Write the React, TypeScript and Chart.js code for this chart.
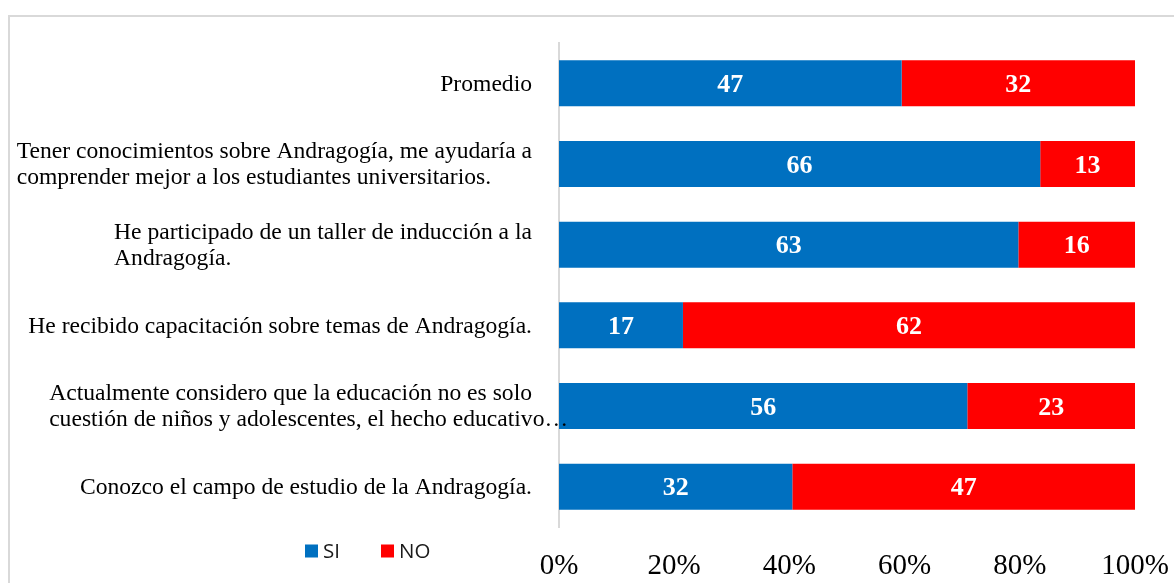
import React, { useEffect, useRef } from 'react';
import { Chart, registerables } from 'chart.js';

Chart.register(...registerables);

const categories: string[][] = [
  ['Promedio'],
  ['Tener conocimientos sobre Andragogía, me ayudaría a', 'comprender mejor a los estudiantes universitarios.'],
  ['He participado de un taller de inducción a la', 'Andragogía.'],
  ['He recibido capacitación sobre temas de Andragogía.'],
  ['Actualmente considero que la educación no es solo', 'cuestión de niños y adolescentes, el hecho educativo…'],
  ['Conozco el campo de estudio de la Andragogía.'],
];
const siValues = [47, 66, 63, 17, 56, 32];
const noValues = [32, 13, 16, 62, 23, 47];
const seriesNames = ['SI', 'NO'];
const seriesColors = ['#0070C0', '#FF0000'];
const xTickLabels = ['0%', '20%', '40%', '60%', '80%', '100%'];

const rawSeries = [siValues, noValues];
const totals = siValues.map((v, i) => v + noValues[i]);
const siPct = siValues.map((v, i) => (v / totals[i]) * 100);
const noPct = noValues.map((v, i) => (v / totals[i]) * 100);

const SERIF = '"Liberation Serif", "Times New Roman", serif';

const catLabelPlugin = {
  id: 'catLabels',
  afterDraw(chart: any) {
    const { ctx, chartArea } = chart;
    const yScale = chart.scales.y;
    ctx.save();
    ctx.font = `23.6px ${SERIF}`;
    ctx.fillStyle = '#000000';
    ctx.textBaseline = 'middle';
    ctx.textAlign = 'left';
    const right = chartArea.left - 27;
    const lh = 26.5;
    (chart.data.labels as string[][]).forEach((lines, i) => {
      const cy = yScale.getPixelForValue(i);
      const w = ctx.measureText(lines[0]).width;
      const x0 = right - w;
      lines.forEach((ln, j) => {
        ctx.fillText(ln, x0, cy + 1 + (j - (lines.length - 1) / 2) * lh);
      });
    });
    ctx.restore();
  },
};

const valueLabelPlugin = {
  id: 'valueLabels',
  afterDatasetsDraw(chart: any) {
    const { ctx } = chart;
    ctx.save();
    ctx.font = `bold 26px ${SERIF}`;
    ctx.fillStyle = '#FFFFFF';
    ctx.textAlign = 'center';
    ctx.textBaseline = 'middle';
    chart.data.datasets.forEach((_ds: any, di: number) => {
      const meta = chart.getDatasetMeta(di);
      meta.data.forEach((bar: any, i: number) => {
        const { x, base, y } = bar.getProps(['x', 'base', 'y'], true);
        ctx.fillText(String(rawSeries[di][i]), (x + base) / 2, y + 2);
      });
    });
    ctx.restore();
  },
};

const legendPlugin = {
  id: 'customLegend',
  afterDraw(chart: any) {
    const { ctx } = chart;
    ctx.save();
    ctx.font = '20.5px "Open Sans", sans-serif';
    ctx.textBaseline = 'middle';
    ctx.textAlign = 'left';
    const startX = 305;
    const step = 76;
    const cy = 551;
    const box = 13;
    chart.data.datasets.forEach((ds: any, i: number) => {
      const x = startX + i * step;
      ctx.fillStyle = ds.backgroundColor;
      ctx.fillRect(x, cy - box / 2, box, box);
      ctx.fillStyle = '#1a1a1a';
      ctx.fillText(ds.label, x + 18, cy + 1);
    });
    ctx.restore();
  },
};

export default function App() {
  const canvasRef = useRef<HTMLCanvasElement | null>(null);

  useEffect(() => {
    if (!canvasRef.current) return;
    const chart = new Chart(canvasRef.current, {
      type: 'bar',
      data: {
        labels: categories as any,
        datasets: [
          {
            label: seriesNames[0],
            data: siPct,
            backgroundColor: seriesColors[0],
            barPercentage: 0.57,
            categoryPercentage: 1,
          },
          {
            label: seriesNames[1],
            data: noPct,
            backgroundColor: seriesColors[1],
            barPercentage: 0.57,
            categoryPercentage: 1,
          },
        ],
      },
      options: {
        indexAxis: 'y',
        responsive: false,
        animation: false,
        layout: { padding: { top: 43, right: 39, bottom: 0, left: 0 } },
        plugins: {
          legend: { display: false },
          tooltip: { enabled: false },
        },
        scales: {
          x: {
            stacked: true,
            min: 0,
            max: 100,
            grid: { display: false },
            border: { display: false },
            ticks: {
              stepSize: 20,
              padding: 14,
              color: '#000000',
              font: { family: SERIF, size: 29 },
              callback: (_v: any, idx: number) => xTickLabels[idx],
            },
            afterFit: (s: any) => {
              s.height = 56;
              s.paddingLeft = 0;
              s.paddingRight = 0;
            },
          },
          y: {
            stacked: true,
            grid: { display: false },
            border: { display: true, color: '#D9D9D9', width: 2 },
            ticks: { display: false },
            afterFit: (s: any) => {
              s.width = 559;
            },
          },
        },
      },
      plugins: [catLabelPlugin, valueLabelPlugin, legendPlugin],
    });
    return () => chart.destroy();
  }, []);

  return (
    <div
      style={{
        position: 'fixed',
        left: 0,
        top: 0,
        width: 1174,
        height: 583,
        overflow: 'hidden',
        background: '#FFFFFF',
      }}
    >
      <div
        style={{
          position: 'absolute',
          left: 8,
          top: 15,
          width: 1200,
          height: 620,
          border: '2px solid #D9D9D9',
          boxSizing: 'border-box',
        }}
      />
      <canvas
        ref={canvasRef}
        width={1174}
        height={583}
        style={{ position: 'absolute', left: 0, top: 0, width: 1174, height: 583 }}
      />
    </div>
  );
}
